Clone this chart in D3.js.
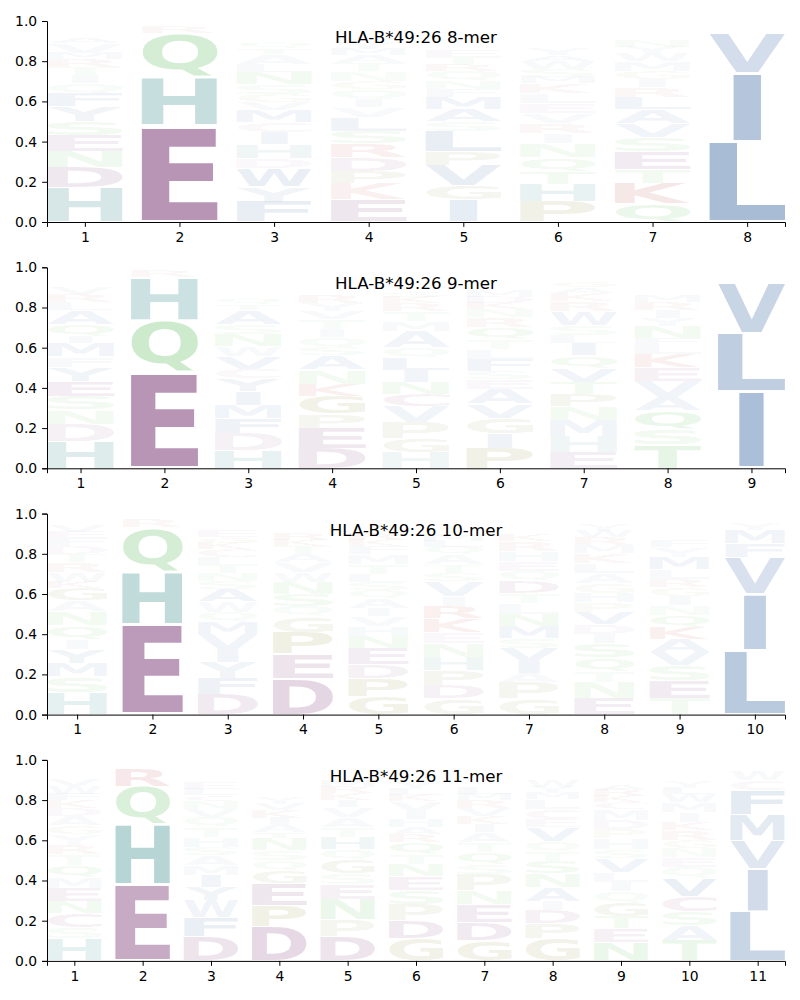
<!DOCTYPE html>
<html>
<head>
<meta charset="utf-8">
<script src="https://cdn.jsdelivr.net/npm/d3@7"></script>
<style>body{margin:0;background:#fff}</style>
</head>
<body>
<script>
const allele = "HLA-B*49:26";
const merNames = ["8-mer", "9-mer", "10-mer", "11-mer"];

// each position: letters bottom -> top, with their heights
const letters8 = ["HDNESYFQITRMVAKLWCGP", "EHQRKN", "FYWDHICMVGSNLATQERKP", "EKPDRSLVIQGNTAMYFHCW",
  "IGVPLSAMFNQRTEKYHDW", "PHTQNIRVELKMSWAYFDGC", "QKTESVALRIGMWYNDFHPC", "LIVMFAY"];
const heights8 = [
  [.17,.10,.08,.08,.07,.075,.065,.05,.04,.04,.04,.03,.05,.03,.025,.02,.015,.01,.01,.01],
  [.48,.24,.22,.03,.01,.01],
  [.10,.075,.09,.05,.07,.06,.05,.06,.04,.04,.05,.06,.04,.05,.03,.03,.02,.02,.02,.01],
  [.11,.08,.06,.07,.07,.06,.07,.05,.04,.05,.04,.05,.04,.04,.03,.03,.02,.02,.02,.01],
  [.11,.07,.10,.07,.10,.05,.06,.06,.04,.04,.05,.03,.04,.03,.02,.02,.01,.01,.01],
  [.10,.09,.06,.07,.07,.05,.05,.05,.05,.05,.05,.03,.04,.04,.03,.03,.02,.02,.02,.01],
  [.09,.10,.07,.09,.07,.07,.07,.06,.05,.04,.04,.05,.04,.03,.03,.02,.02,.02,.01,.01],
  [.40,.34,.20,.02,.015,.01,.01]
];

const letters9 = ["HDNSEYFMIQALRVKTGWCP", "EQHRK", "HDFMIYCVWNSATQGLRKEP", "DEPGKNASQITVYRMFLHW",
  "HGPVCNILQAMTRKSEDYFW", "PIGVAESFLTQRNKDMYHWC", "EHMNPTVQILSWRKAGDFYC", "TSQAVEKLFNYIRMGHDPWC", "ILVYMA"];
const heights9 = [
  [.135,.085,.07,.07,.075,.07,.05,.07,.03,.06,.07,.04,.04,.03,.02,.02,.01,.01,.01,.005],
  [.48,.26,.21,.03,.01],
  [.09,.085,.075,.065,.07,.06,.05,.06,.05,.06,.05,.07,.03,.03,.02,.02,.02,.02,.01,.01],
  [.10,.10,.07,.09,.06,.07,.07,.04,.05,.04,.05,.04,.04,.04,.02,.02,.02,.01,.01],
  [.08,.07,.08,.08,.06,.06,.06,.06,.05,.08,.05,.05,.04,.03,.03,.02,.02,.02,.01,.01],
  [.10,.075,.075,.07,.075,.05,.04,.06,.045,.05,.06,.05,.04,.03,.03,.03,.02,.02,.01,.01],
  [.08,.08,.08,.07,.06,.06,.07,.06,.06,.04,.05,.07,.05,.04,.03,.03,.02,.02,.02,.01],
  [.12,.075,.09,.07,.08,.065,.065,.05,.03,.06,.04,.04,.04,.03,.02,.02,.02,.02,.01,.01],
  [.38,.29,.25,.02,.02,.01]
];

const letters10 = ["HSMYIQNAGKWRTDFEVLCP", "EHQRK", "DFYIVMQWASNTLCKGERHP", "DEPGQSNWVATKRLIYMHF",
  "GPDENHVIAQSLTMFKRYWC", "GDPHNEKRIVSTAQLMFYWC", "GPAIVSMNLTDQEHRKYFWC", "ENTQSIDVPHGALKMRWYFC",
  "TESVAKQNIGRLMYFHDPWC", "LIVFMY"];
const heights10 = [
  [.11,.08,.065,.07,.05,.07,.07,.055,.06,.03,.05,.05,.04,.04,.04,.03,.03,.02,.01,.01],
  [.45,.26,.22,.04,.01],
  [.10,.08,.08,.06,.08,.06,.05,.055,.06,.04,.04,.04,.04,.04,.03,.03,.03,.02,.02,.01],
  [.18,.12,.11,.08,.05,.06,.06,.05,.05,.04,.04,.03,.03,.02,.02,.02,.01,.01,.01],
  [.09,.09,.07,.08,.06,.05,.05,.04,.05,.04,.04,.04,.05,.05,.04,.03,.03,.02,.01,.01],
  [.08,.065,.075,.065,.07,.055,.07,.06,.05,.075,.04,.04,.05,.04,.03,.03,.02,.02,.01,.01],
  [.08,.08,.045,.06,.065,.05,.06,.06,.055,.05,.06,.05,.05,.05,.05,.03,.02,.02,.01,.01],
  [.08,.08,.055,.07,.07,.045,.05,.06,.05,.045,.05,.05,.05,.05,.04,.04,.03,.03,.02,.01],
  [.08,.09,.075,.065,.065,.06,.06,.05,.045,.045,.04,.05,.06,.05,.03,.02,.02,.02,.01,.01],
  [.32,.28,.18,.07,.07,.03]
];

const letters11 = ["HSCNEMQTRYGADKFWVILP", "EHQRK", "DFWYIMASHTQVNCLEKRGP", "DPEGQSNTAIKVYRMLFHWC",
  "DPNESGQHTAVIKRMLFYWC", "GDPSENTQRAHIVKLYMFWC", "GDENPSQTAIKVRMLYFHWC", "GPDIANSTQVECLMYWKRHF",
  "NETGQILVSHPDMCKRAWYF", "TASCVQENGRKIMWLYFDHP", "LIVMFCWY"];
const heights11 = [
  [.11,.055,.07,.06,.065,.055,.06,.055,.045,.055,.045,.045,.04,.04,.03,.04,.03,.02,.02,.01],
  [.38,.30,.19,.09,.01],
  [.12,.095,.085,.065,.06,.05,.05,.04,.05,.05,.05,.04,.04,.03,.03,.03,.02,.02,.02,.01],
  [.17,.105,.11,.065,.05,.05,.06,.03,.04,.03,.04,.03,.03,.02,.02,.02,.02,.02,.01,.01],
  [.12,.085,.10,.075,.055,.07,.05,.06,.05,.05,.05,.035,.035,.03,.03,.02,.02,.02,.01,.01],
  [.11,.09,.08,.07,.07,.06,.05,.06,.04,.035,.04,.04,.05,.03,.03,.03,.02,.02,.01,.01],
  [.10,.09,.09,.07,.08,.05,.06,.05,.05,.04,.04,.04,.04,.03,.03,.02,.02,.02,.02,.01],
  [.11,.075,.065,.045,.07,.07,.06,.05,.05,.07,.04,.05,.05,.03,.03,.03,.02,.02,.01,.01],
  [.09,.07,.06,.07,.055,.045,.05,.07,.045,.055,.045,.045,.055,.035,.03,.03,.03,.025,.02,.01],
  [.10,.075,.07,.075,.09,.055,.05,.045,.04,.05,.04,.05,.05,.04,.03,.03,.02,.02,.01,.01],
  [.25,.21,.14,.13,.12,.05,.05,.02]
];

const colors = {
  D: "#6b2065", E: "#6b2065", C: "#8a2c7a",
  H: "#0f7373", K: "#b41e1e", R: "#b41e1e",
  N: "#3caf3c", Q: "#3caf3c", S: "#3caf3c", T: "#3caf3c",
  G: "#7a7a10", P: "#7a7a10",
  A: "#255799", V: "#255799", L: "#255799", I: "#255799", M: "#255799",
  F: "#255799", W: "#255799", Y: "#2a6a8a"
};

const letters = [letters8, letters9, letters10, letters11];
const heights = [heights8, heights9, heights10, heights11];

const width = 800, height = 1000;
const left = 47, right = 785, panelH = 201, panelStep = 246.3;

const svg = d3.select("body").append("svg")
    .attr("width", width)
    .attr("height", height)
    .attr("font-family", "DejaVu Sans");

// ink extents of each glyph, to stretch letters into their boxes
const ctx = document.createElement("canvas").getContext("2d");
ctx.font = "bold 100px 'DejaVu Sans'";
const ink = ch => {
  const m = ctx.measureText(ch);
  return {l: m.actualBoundingBoxLeft, r: m.actualBoundingBoxRight,
          a: m.actualBoundingBoxAscent, d: m.actualBoundingBoxDescent};
};
const inkE = ink("E");

letters.forEach((cols, i) => {
  const top = 21 + i * panelStep, bottom = top + panelH;
  const n = cols.length;
  const x = d3.scaleLinear().domain([0.6, n + 0.4]).range([left, right]);
  const y = d3.scaleLinear().domain([0, 1]).range([bottom, top]);
  const g = svg.append("g");

  cols.forEach((str, j) => {
    let base = 0;
    str.split("").forEach((ch, k) => {
      const v = heights[i][j][k];
      const m = ink(ch);
      const x0 = x(j + 1 - 0.4), x1 = x(j + 1 + 0.4), w = x1 - x0;
      const yb = y(base + v * 0.025), yt = y(base + v * 0.975);
      const sx = Math.min(w / (m.l + m.r), w / (inkE.l + inkE.r));
      const sy = (yb - yt) / (m.a + m.d);
      const tx = (x0 + x1) / 2 - sx * (m.r - m.l) / 2;
      const ty = yb - sy * m.d;
      g.append("text")
          .attr("transform", `translate(${tx},${ty}) scale(${sx},${sy})`)
          .attr("font-size", 100)
          .attr("font-weight", "bold")
          .attr("fill", colors[ch])
          .attr("fill-opacity", Math.min(1, v))
          .text(ch);
      base += v;
    });
  });

  g.append("g")
      .attr("transform", `translate(${left},0)`)
      .call(d3.axisLeft(y).tickValues([0, .2, .4, .6, .8, 1]).tickFormat(d3.format(".1f"))
        .tickSizeOuter(0).tickSize(4.9).tickPadding(4.9))
      .attr("font-size", 13.9)
      .attr("font-family", "DejaVu Sans");

  g.append("g")
      .attr("transform", `translate(0,${bottom})`)
      .call(d3.axisBottom(x).tickValues(d3.range(1, n + 1)).tickFormat(d3.format("d"))
        .tickSizeOuter(0).tickSize(4.9).tickPadding(4.9))
      .attr("font-size", 13.9)
      .attr("font-family", "DejaVu Sans");

  g.append("text")
      .attr("x", (left + right) / 2)
      .attr("y", top + 22)
      .attr("text-anchor", "middle")
      .attr("font-size", 16.7)
      .text(`${allele} ${merNames[i]}`);
});
</script>
</body>
</html>
